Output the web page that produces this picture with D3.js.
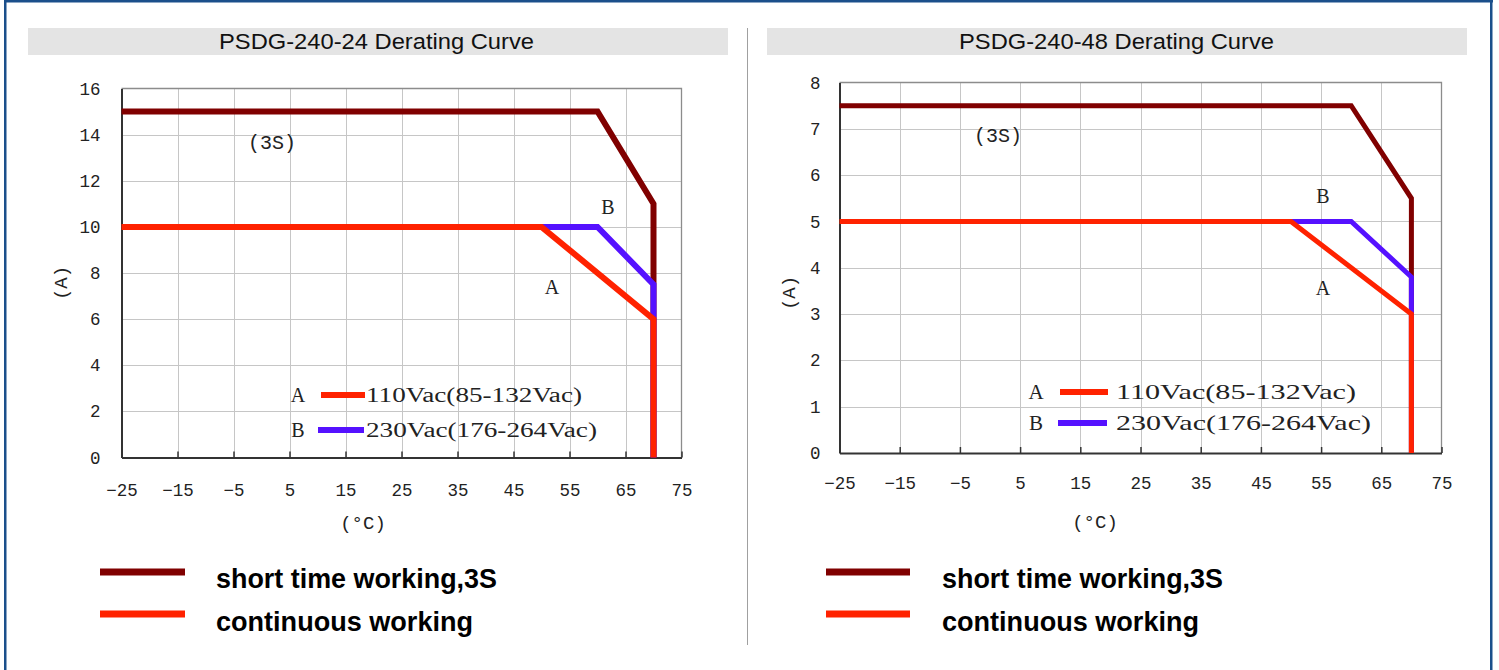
<!DOCTYPE html>
<html><head><meta charset="utf-8">
<script src="https://cdn.jsdelivr.net/npm/d3@7"></script>
<style>html,body{margin:0;padding:0;background:#fff;overflow:hidden}svg{display:block}</style>
</head><body>
<script>
// ---------- data ----------
const tempTicks = [-25, -15, -5, 5, 15, 25, 35, 45, 55, 65, 75];
const ampTicks24 = [0, 2, 4, 6, 8, 10, 12, 14, 16];
const ampTicks48 = [0, 1, 2, 3, 4, 5, 6, 7, 8];
const titles = ["PSDG-240-24 Derating Curve", "PSDG-240-48 Derating Curve"];

const shortTemp24 = [-25, 60, 70, 70];
const shortAmp24  = [15, 15, 11, 0];
const bTemp24 = [50, 60, 70, 70];
const bAmp24  = [10, 10, 7.5, 0];
const aTemp24 = [-25, 50, 70, 70];
const aAmp24  = [10, 10, 6, 0];

const shortTemp48 = [-25, 60, 70, 70];
const shortAmp48  = [7.5, 7.5, 5.5, 0];
const bTemp48 = [50, 60, 70, 70];
const bAmp48  = [5, 5, 3.8, 0];
const aTemp48 = [-25, 50, 70, 70];
const aAmp48  = [5, 5, 3, 0];

const inputLabels = ["110Vac(85-132Vac)", "230Vac(176-264Vac)"];
const modeLabels = ["short time working,3S", "continuous working"];

// ---------- styles ----------
const C_SHORT = "#800000", C_A = "#ff2200", C_B = "#5511ff";
const SERIF = "'Liberation Serif', 'DejaVu Serif', serif";
const MONO = "'Liberation Mono', 'DejaVu Sans Mono', monospace";
const SANS = "'Liberation Sans', Arial, sans-serif";

const W = 1499, H = 670;
const svg = d3.select("body").append("svg").attr("width", W).attr("height", H);
svg.append("rect").attr("width", W).attr("height", H).attr("fill", "#fff");

// outer frame
const frame = svg.append("g").attr("stroke", "#1b4f8b").attr("stroke-width", 2.5);
frame.append("line").attr("x1", 4).attr("x2", 1493).attr("y1", 1.25).attr("y2", 1.25);
frame.append("line").attr("x1", 5.25).attr("x2", 5.25).attr("y1", 0).attr("y2", H);
frame.append("line").attr("x1", 1491.25).attr("x2", 1491.25).attr("y1", 0).attr("y2", H);

// separator
svg.append("line").attr("x1", 747.5).attr("x2", 747.5).attr("y1", 28).attr("y2", 645)
  .attr("stroke", "#a0a0a0").attr("stroke-width", 1);

const panels = [
  {
    title: titles[0], bar: [28, 728], titleX: 376,
    xr: [121.5, 681.5], yr: [457.5, 88.5], ymax: 16, yTicks: ampTicks24,
    lw: 6, xPad: 26, yPad: 21,
    series: [[shortTemp24, shortAmp24, C_SHORT], [bTemp24, bAmp24, C_B], [aTemp24, aAmp24, C_A]],
    s3: [272, 149], lblB: [608, 214], lblA: [552, 294], lblFs: 20,
    axA: [60, 283], axC: [363, 523],
    legY: [395, 430], legLetterX: 298, legLine: [[321, 365], [318, 364]], legTextX: 366,
    legW: [216, 231], legFs: 20,
    modeLineX: [100, 185], modeTextX: 216
  },
  {
    title: titles[1], bar: [767, 1467], titleX: 1116,
    xr: [839.5, 1441.5], yr: [453, 82.5], ymax: 8, yTicks: ampTicks48,
    lw: 5, xPad: 24, yPad: 19,
    series: [[shortTemp48, shortAmp48, C_SHORT], [bTemp48, bAmp48, C_B], [aTemp48, aAmp48, C_A]],
    s3: [998, 142], lblB: [1323, 203], lblA: [1323, 295], lblFs: 20,
    axA: [788, 293], axC: [1095, 522],
    legY: [392, 423], legLetterX: 1036, legLine: [[1060, 1108], [1058, 1107]], legTextX: 1116,
    legW: [240, 255], legFs: 21,
    modeLineX: [826, 910], modeTextX: 942
  }
];

panels.forEach(p => {
  const g = svg.append("g");
  // title bar
  g.append("rect").attr("x", p.bar[0]).attr("y", 28).attr("width", p.bar[1] - p.bar[0]).attr("height", 27)
    .attr("fill", "#e4e4e4");
  g.append("text").attr("x", p.titleX - 157).attr("y", 48.5)
    .attr("font-family", SANS).attr("font-size", 22).attr("fill", "#111")
    .attr("textLength", 315).attr("lengthAdjust", "spacingAndGlyphs").text(p.title);

  const x = d3.scaleLinear().domain([-25, 75]).range(p.xr);
  const y = d3.scaleLinear().domain([0, p.ymax]).range(p.yr);

  // grid
  const grid = g.append("g").attr("stroke", "#c6c6c6").attr("stroke-width", 1);
  grid.selectAll("line.v").data(tempTicks.slice(1, -1)).join("line")
    .attr("x1", d => Math.round(x(d)) + 0.5).attr("x2", d => Math.round(x(d)) + 0.5)
    .attr("y1", p.yr[1]).attr("y2", p.yr[0]);
  grid.selectAll("line.h").data(p.yTicks.slice(1, -1)).join("line")
    .attr("y1", d => Math.round(y(d)) + 0.5).attr("y2", d => Math.round(y(d)) + 0.5)
    .attr("x1", p.xr[0]).attr("x2", p.xr[1]);
  // top & right border
  g.append("path").attr("d", `M${p.xr[0]},${p.yr[1]}H${p.xr[1]}V${p.yr[0]}`)
    .attr("fill", "none").attr("stroke", "#8c8c8c").attr("stroke-width", 1.3);

  // axes
  const xAxis = d3.axisBottom(x).tickValues(tempTicks).tickSizeInner(-6).tickSizeOuter(0)
    .tickPadding(p.xPad).tickFormat(d3.format("d"));
  const gx = g.append("g").attr("transform", `translate(0,${p.yr[0]})`).call(xAxis);
  gx.select(".domain").attr("stroke", "#333").attr("stroke-width", 2);
  gx.selectAll(".tick line").attr("stroke", "#333").attr("stroke-width", 1.5);
  gx.selectAll(".tick text").attr("font-family", MONO).attr("font-size", 17.5).attr("fill", "#222");

  const yAxis = d3.axisLeft(y).tickValues(p.yTicks).tickSize(0).tickPadding(p.yPad);
  const gy = g.append("g").attr("transform", `translate(${p.xr[0]},0)`).call(yAxis);
  gy.select(".domain").attr("stroke", "#333").attr("stroke-width", 2);
  gy.selectAll(".tick text").attr("font-family", MONO).attr("font-size", 17.5).attr("fill", "#222");

  // curves
  const line = d3.line().x(d => x(d[0])).y(d => y(d[1]));
  p.series.forEach(([t, a, c]) => {
    g.append("path").datum(d3.zip(t, a)).attr("d", line)
      .attr("fill", "none").attr("stroke", c).attr("stroke-width", p.lw)
      .attr("stroke-linejoin", "miter").attr("stroke-linecap", "butt");
  });

  // labels
  const txt = (tx, ty, s, fs, fam = SERIF, anchor = "middle") => g.append("text").attr("x", tx).attr("y", ty)
    .attr("text-anchor", anchor).attr("font-family", fam).attr("font-size", fs).attr("fill", "#222").text(s);
  txt(p.s3[0], p.s3[1], "(3S)", 20, MONO);
  txt(p.lblB[0], p.lblB[1], "B", p.lblFs);
  txt(p.lblA[0], p.lblA[1], "A", p.lblFs);
  g.append("text").attr("transform", `translate(${p.axA[0]},${p.axA[1]}) rotate(-90)`)
    .attr("text-anchor", "middle").attr("dy", "0.35em").attr("font-family", MONO)
    .attr("font-size", 19).attr("fill", "#222").text("(A)");
  txt(p.axC[0], p.axC[1] + 6, "(°C)", 19, MONO);

  // input legend
  [C_A, C_B].forEach((c, i) => {
    const ly = p.legY[i];
    txt(p.legLetterX, ly + 7, i === 0 ? "A" : "B", p.legFs);
    g.append("line").attr("x1", p.legLine[i][0]).attr("x2", p.legLine[i][1]).attr("y1", ly).attr("y2", ly)
      .attr("stroke", c).attr("stroke-width", 6);
    txt(p.legTextX, ly + 7, inputLabels[i], p.legFs, SERIF, "start")
      .attr("textLength", p.legW[i]).attr("lengthAdjust", "spacingAndGlyphs");
  });

  // mode legend
  const modeY = [572, 614], modeBase = [588, 631], modeW = [281, 257];
  [C_SHORT, C_A].forEach((c, i) => {
    svg.append("line").attr("x1", p.modeLineX[0]).attr("x2", p.modeLineX[1])
      .attr("y1", modeY[i]).attr("y2", modeY[i]).attr("stroke", c).attr("stroke-width", 7);
    svg.append("text").attr("x", p.modeTextX).attr("y", modeBase[i])
      .attr("font-family", SANS).attr("font-weight", "bold").attr("font-size", 27).attr("fill", "#000")
      .attr("textLength", modeW[i]).attr("lengthAdjust", "spacingAndGlyphs").text(modeLabels[i]);
  });
});
</script>
</body></html>
